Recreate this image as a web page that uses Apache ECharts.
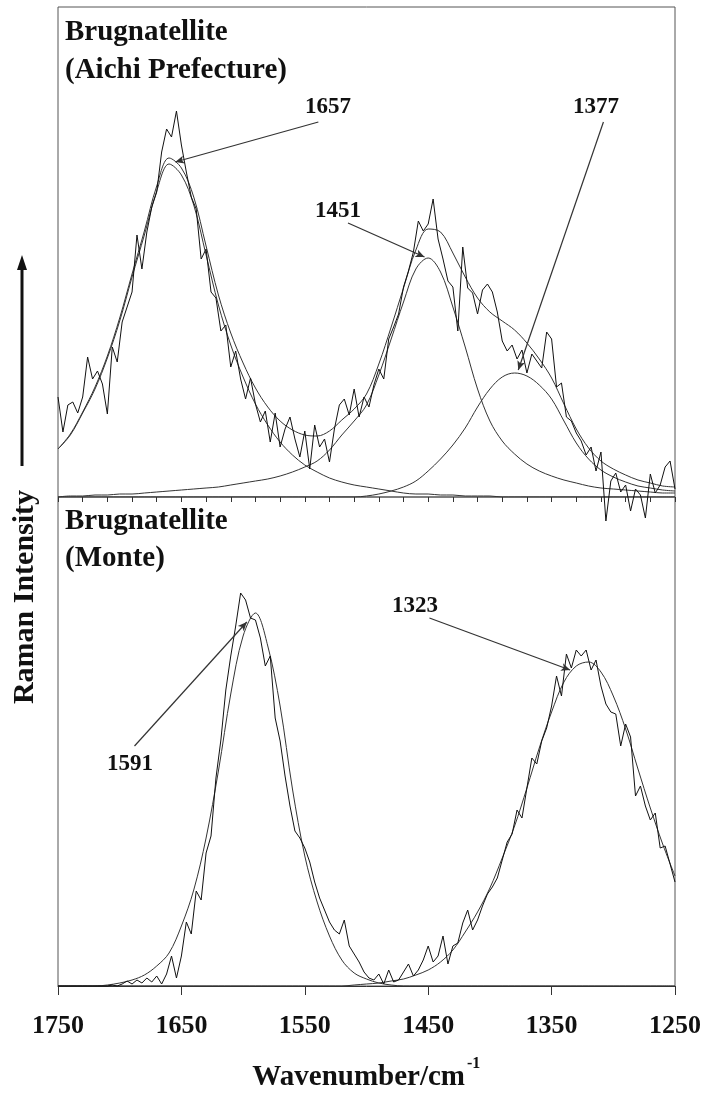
<!DOCTYPE html>
<html>
<head>
<meta charset="utf-8">
<script src="https://cdn.jsdelivr.net/npm/echarts@6/dist/echarts.min.js"></script>
<style>
  html, body { margin: 0; padding: 0; background: #fff; }
  #chart { width: 708px; height: 1102px; }
</style>
</head>
<body>
<div id="chart"></div>
<script>
const FONT = '"Liberation Serif", "Times New Roman", serif';

// wavenumber grid of the fitted curves (cm-1)
const fitWn = [1750, 1740, 1730, 1720, 1710, 1700, 1690, 1680, 1670, 1660, 1650, 1640, 1630, 1620, 1610, 1600,
  1590, 1580, 1570, 1560, 1550, 1540, 1530, 1520, 1510, 1500, 1490, 1480, 1470, 1460, 1450, 1440, 1430, 1420,
  1410, 1400, 1390, 1380, 1370, 1360, 1350, 1340, 1330, 1320, 1310, 1300, 1290, 1280, 1270, 1260, 1250];

// Aichi Prefecture: fitted bands and envelope
const aichiBand1657 = [48, 62, 84, 108, 139, 176, 220, 262, 306, 333, 322, 292, 242, 192, 152, 120,
  93, 72, 55, 42, 32, 25, 19, 15, 12, 10, 8, 6, 4, 3, 3, 2, 2, 1,
  1, 1, 0, 0, 0, 0, 0, 0, 0, 0, 0, 0, 0, 0, 0, 0, 0];
const aichiBand1451 = [0, 1, 1, 2, 2, 3, 3, 4, 5, 6, 7, 8, 9, 10, 12, 14,
  16, 18, 21, 25, 30, 36, 47, 62, 76, 92, 122, 158, 195, 228, 239, 225, 190, 150,
  108, 76, 56, 43, 33, 26, 21, 17, 14, 11, 9, 8, 7, 6, 5, 4, 4];
const aichiBand1377 = [0, 0, 0, 0, 0, 0, 0, 0, 0, 0, 0, 0, 0, 0, 0, 0,
  0, 0, 0, 0, 0, 0, 0, 0, 0, 1, 3, 6, 10, 16, 26, 38, 52, 69,
  90, 108, 120, 124, 121, 112, 98, 76, 54, 38, 27, 20, 15, 11, 9, 7, 6];
const aichiEnvelope = [48, 63, 85, 110, 141, 179, 223, 266, 311, 339, 329, 300, 251, 202, 164, 134,
  109, 90, 76, 67, 62, 61, 66, 77, 88, 103, 133, 170, 209, 247, 268, 265, 244, 220,
  199, 185, 176, 167, 154, 138, 119, 93, 68, 49, 36, 28, 22, 17, 14, 11, 10];

// Monte: fitted bands
const monteBand1591 = [0, 0, 0, 0, 1, 3, 6, 11, 20, 33, 60, 96, 148, 215, 292, 350,
  373, 340, 280, 197, 130, 84, 50, 26, 13, 7, 3, 1, 0, 0, 0, 0, 0, 0,
  0, 0, 0, 0, 0, 0, 0, 0, 0, 0, 0, 0, 0, 0, 0, 0, 0];
const monteBand1323 = [0, 0, 0, 0, 0, 0, 0, 0, 0, 0, 0, 0, 0, 0, 0, 0,
  0, 0, 0, 0, 0, 0, 0, 0, 1, 2, 3, 5, 7, 11, 16, 24, 36, 54,
  74, 98, 128, 160, 198, 238, 274, 304, 320, 324, 314, 290, 257, 217, 178, 142, 110];

// measured spectra, one value every 4 cm-1 from 1750 down to 1250
const rawStart = 1750;
const rawStep = 4;
const aichiRaw = [100, 65, 92, 95, 84, 100, 140, 118, 126, 113,
  83, 150, 135, 175, 190, 205, 262, 228, 265, 290,
  305, 345, 368, 360, 386, 352, 325, 300, 288, 238,
  248, 205, 199, 166, 172, 130, 146, 118, 98, 119,
  93, 75, 86, 55, 84, 50, 68, 80, 58, 40,
  66, 28, 72, 50, 58, 35, 68, 92, 98, 82,
  108, 80, 100, 90, 112, 128, 118, 158, 170, 183,
  210, 226, 245, 276, 266, 273, 298, 258, 238, 216,
  210, 166, 250, 209, 204, 183, 207, 213, 205, 185,
  156, 146, 152, 138, 147, 124, 143, 136, 129, 165,
  158, 110, 114, 80, 76, 64, 56, 42, 50, 26,
  45, -24, 16, 24, 5, 12, -14, 8, 2, -21,
  23, 4, 12, 30, 36, 8];
const monteRaw = [0, 0, 0, 0, 0, 0, 0, 0, 0, 0,
  0, 1, 0, 2, 5, 2, 6, 3, 8, 4,
  10, 2, 12, 30, 8, 30, 64, 52, 95, 86,
  133, 150, 208, 246, 296, 330, 360, 393, 386, 368,
  366, 348, 320, 330, 268, 245, 210, 180, 155, 148,
  138, 124, 104, 88, 76, 64, 56, 52, 66, 40,
  32, 24, 14, 8, 6, 12, 2, 16, 4, 6,
  14, 22, 10, 16, 26, 40, 24, 30, 50, 22,
  40, 43, 63, 76, 56, 66, 80, 92, 99, 108,
  126, 144, 152, 176, 168, 198, 228, 222, 245, 258,
  280, 310, 290, 332, 318, 336, 330, 336, 316, 326,
  300, 282, 274, 272, 240, 262, 249, 190, 200, 180,
  166, 173, 138, 140, 122, 104];

const xTicks = [1750, 1650, 1550, 1450, 1350, 1250];

// peak annotations: [label, x1, y1, x2, y2] in data units (arrow points to x2,y2)
const aichiPeaks = [
  ['1657', 1539, 375, 1655, 335],
  ['1451', 1515, 274, 1453, 240],
  ['1377', 1308, 375, 1377, 127]
];
const montePeaks = [
  ['1591', 1688, 240, 1597, 364],
  ['1323', 1449, 368, 1335, 316]
];

const rawWn = aichiRaw.map((_, i) => rawStart - rawStep * i);
const pairs = (xs, ys) => ys.map((v, i) => [xs[i], v]);

const chart = echarts.init(document.getElementById('chart'), null, { renderer: 'canvas' });

function fitLine(grid, values) {
  return {
    type: 'line', xAxisIndex: grid === 0 ? 0 : 1, yAxisIndex: grid,
    data: pairs(fitWn, values), showSymbol: false, smooth: 0.35,
    lineStyle: { color: '#333', width: 1 }, silent: true
  };
}

function rawLine(grid, values) {
  return {
    type: 'line', xAxisIndex: grid === 0 ? 0 : 1, yAxisIndex: grid,
    data: pairs(rawWn, values), showSymbol: false, clip: false,
    lineStyle: { color: '#111', width: 1 }, silent: true
  };
}

function arrows(peaks) {
  return {
    silent: true,
    symbol: ['none', 'arrow'],
    symbolSize: [6, 9],
    label: { show: false },
    lineStyle: { color: '#333', width: 1.2, type: 'solid' },
    data: peaks.map(p => [{ coord: [p[1], p[2]] }, { coord: [p[3], p[4]] }])
  };
}

const boldText = (text, x, y, size, align) => ({
  type: 'text', x: x, y: y, silent: true,
  style: {
    text: text, font: 'bold ' + size + 'px ' + FONT, fill: '#111',
    textAlign: align || 'left', textVerticalAlign: 'middle',
    align: align || 'left', verticalAlign: 'middle'
  }
});

const aichiSeries = rawLine(0, aichiRaw);
aichiSeries.markLine = arrows(aichiPeaks);
const monteSeries = rawLine(1, monteRaw);
monteSeries.markLine = arrows(montePeaks);

const option = {
  animation: false,
  backgroundColor: '#fff',
  grid: [
    { left: 58, top: 7, width: 617, height: 490, show: true, borderColor: '#555', borderWidth: 1 },
    { left: 58, top: 497, width: 617, height: 489, show: true, borderColor: '#555', borderWidth: 1 }
  ],
  xAxis: [
    { gridIndex: 0, type: 'value', min: 1250, max: 1750, inverse: true, show: false },
    {
      gridIndex: 1, type: 'value', min: 1250, max: 1750, interval: 100, inverse: true,
      axisLine: { lineStyle: { color: '#333', width: 1 } },
      axisTick: { length: 9, lineStyle: { color: '#333' } },
      axisLabel: {
        fontFamily: FONT, fontSize: 26, fontWeight: 'bold', color: '#111', margin: 27,
        formatter: v => (xTicks.indexOf(v) >= 0 ? String(v) : '')
      },
      splitLine: { show: false }
    },
    {
      gridIndex: 1, type: 'value', min: 1250, max: 1750, interval: 100, inverse: true,
      axisLine: { show: false }, axisLabel: { show: false },
      axisTick: { inside: true, length: 5, lineStyle: { color: '#333' } },
      minorTick: { show: true, splitNumber: 5, length: 5, lineStyle: { color: '#333' } },
      splitLine: { show: false }
    }
  ],
  yAxis: [
    { gridIndex: 0, type: 'value', min: 0, max: 490, show: false },
    { gridIndex: 1, type: 'value', min: 0, max: 489, show: false }
  ],
  series: [
    fitLine(0, aichiBand1657),
    fitLine(0, aichiBand1451),
    fitLine(0, aichiBand1377),
    fitLine(0, aichiEnvelope),
    aichiSeries,
    fitLine(1, monteBand1591),
    fitLine(1, monteBand1323),
    monteSeries
  ],
  graphic: [
    boldText('Brugnatellite', 65, 33, 29),
    boldText('(Aichi Prefecture)', 65, 71, 29),
    boldText('Brugnatellite', 65, 522, 29),
    boldText('(Monte)', 65, 559, 29),
    boldText('1657', 328, 107, 23, 'center'),
    boldText('1451', 338, 211, 23, 'center'),
    boldText('1377', 596, 107, 23, 'center'),
    boldText('1591', 130, 764, 23, 'center'),
    boldText('1323', 415, 606, 23, 'center'),
    boldText('Wavenumber/cm', 465, 1078, 29, 'right'),
    boldText('-1', 467, 1064, 16, 'left'),
    {
      type: 'text', x: 25, y: 597, rotation: Math.PI / 2, silent: true,
      style: {
        text: 'Raman Intensity', font: 'bold 30px ' + FONT, fill: '#111',
        textAlign: 'center', textVerticalAlign: 'middle', align: 'center', verticalAlign: 'middle'
      }
    },
    {
      type: 'line', silent: true,
      shape: { x1: 22, y1: 466, x2: 22, y2: 268 },
      style: { stroke: '#111', lineWidth: 3 }
    },
    {
      type: 'polygon', silent: true,
      shape: { points: [[22, 255], [17, 270], [27, 270]] },
      style: { fill: '#111' }
    }
  ]
};

chart.setOption(option);
</script>
</body>
</html>
